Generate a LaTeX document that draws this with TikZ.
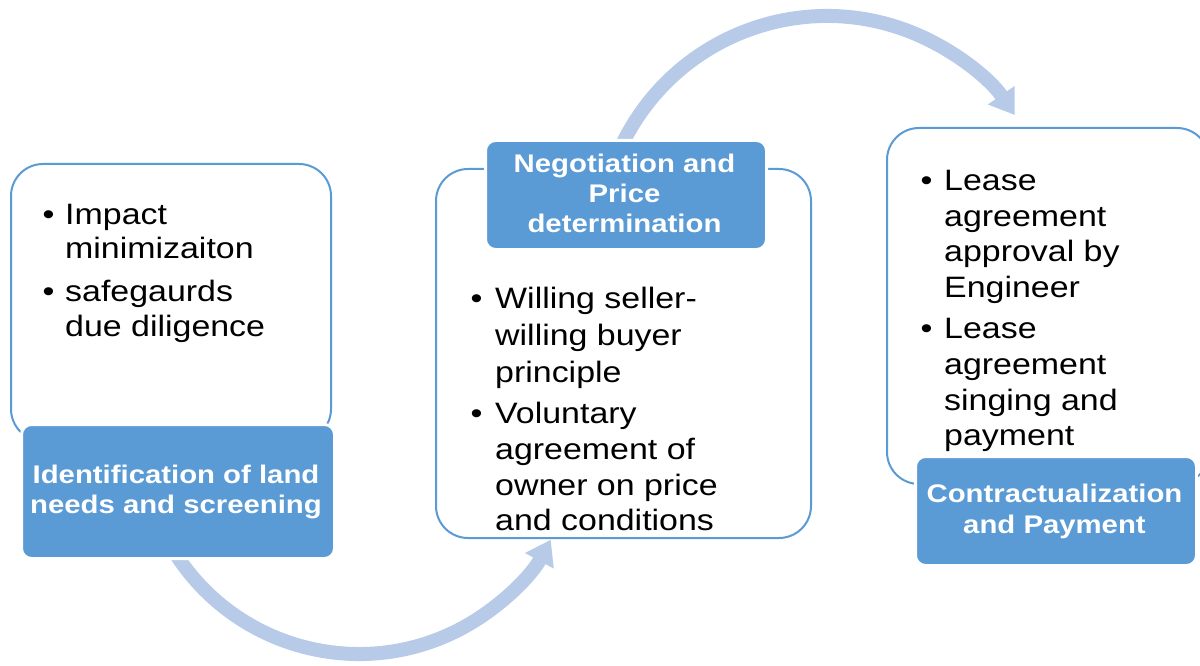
\documentclass[tikz,border=0pt]{standalone}
\usepackage{fontspec}
\setmainfont{Liberation Sans}[FakeStretch=1.15]
\usetikzlibrary{arrows.meta}
\definecolor{boxblue}{HTML}{5B9BD5}
\definecolor{arrowblue}{HTML}{B7CBE8}
\begin{document}
\begin{tikzpicture}[x=1pt,y=-1pt,
  whitebox/.style={draw=boxblue, line width=2pt, fill=white, rounded corners=32pt, anchor=north west, inner sep=0pt},
  stepfill/.style={draw=white, line width=3pt, fill=boxblue, rounded corners=10pt, anchor=north west, inner sep=0pt},
  flowarrow/.style={draw=arrowblue, line width=14pt, -{Triangle[width=31pt,length=24pt]}},
  bodytext/.style={font=\fontsize{29.5}{36}\selectfont, inner sep=0pt, text=black, anchor=base west},
  bulletmark/.style={font=\fontsize{29.5}{36}\selectfont, inner sep=0pt, text=black, anchor=base},
  headtext/.style={font=\fontsize{25.5}{30}\selectfont\bfseries, inner sep=0pt, text=white, anchor=base}]
\useasboundingbox (0,0) rectangle (1200,666);
\fill[white] (0,0) rectangle (1200,666);

% circular arrows
\coordinate (c1) at (359,436);
\coordinate (c2) at (827,243.6);
\draw[flowarrow] (c1) ++(150:218) arc[start angle=150, end angle=28.4, radius=218];
\draw[flowarrow] (c2) ++(-157:227.6) arc[start angle=-157, end angle=-34.4, radius=227.6];

% white boxes
\node[whitebox, minimum width=320pt, minimum height=277pt] (box1) at (10,163) {};
\node[whitebox, minimum width=375pt, minimum height=369pt] (box2) at (435,168) {};
\node[whitebox, minimum width=322pt, minimum height=356pt] (box3) at (886,127) {};

% blue step boxes
\node[stepfill, minimum width=313pt, minimum height=134pt] (step1) at (20,423) {};
\node[stepfill, minimum width=281pt, minimum height=109pt] (step2) at (484,139) {};
\node[stepfill, minimum width=281pt, minimum height=109pt] (step3) at (914,455) {};

% step titles
\node[headtext] (h1a) at (176,483) {Identification of land};
\node[headtext] (h1b) at (176,513) {needs and screening};
\node[headtext] (h2a) at (624.5,172) {Negotiation and};
\node[headtext] (h2b) at (624.5,202) {Price};
\node[headtext] (h2c) at (624.5,232) {determination};
\node[headtext] (h3a) at (1054.5,502) {Contractualization};
\node[headtext] (h3b) at (1054.5,533) {and Payment};

% box 1 bullets
\node[bulletmark] (d11) at (48.5,224) {•};
\node[bodytext] (t11) at (65,224) {Impact};
\node[bodytext] (t12) at (65,258) {minimizaiton};
\node[bulletmark] (d12) at (48.5,301) {•};
\node[bodytext] (t13) at (65,301) {safegaurds};
\node[bodytext] (t14) at (65,336) {due diligence};

% box 2 bullets
\node[bulletmark] (d21) at (476.5,308) {•};
\node[bodytext] (t21) at (495,308) {Willing seller-};
\node[bodytext] (t22) at (495,345) {willing buyer};
\node[bodytext] (t23) at (495,382) {principle};
\node[bulletmark] (d22) at (476.5,423) {•};
\node[bodytext] (t24) at (495,423) {Voluntary};
\node[bodytext] (t25) at (495,459) {agreement of};
\node[bodytext] (t26) at (495,495) {owner on price};
\node[bodytext] (t27) at (495,530) {and conditions};

% box 3 bullets
\node[bulletmark] (d31) at (926.5,190) {•};
\node[bodytext] (t31) at (944,190) {Lease};
\node[bodytext] (t32) at (944,226) {agreement};
\node[bodytext] (t33) at (944,261) {approval by};
\node[bodytext] (t34) at (944,297) {Engineer};
\node[bulletmark] (d32) at (926.5,338) {•};
\node[bodytext] (t35) at (944,338) {Lease};
\node[bodytext] (t36) at (944,374) {agreement};
\node[bodytext] (t37) at (944,410) {singing and};
\node[bodytext] (t38) at (944,445) {payment};
\end{tikzpicture}
\end{document}
